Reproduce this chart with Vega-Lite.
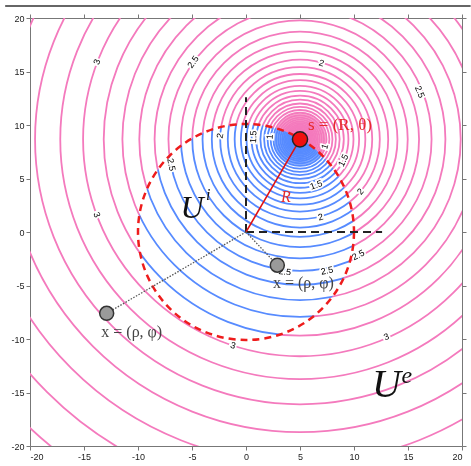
{
"$schema":"https://vega.github.io/schema/vega-lite/v6.json",
"width":432,"height":428,
"autosize":{"type":"none"},
"padding":{"left":30,"top":18,"right":9,"bottom":20},
"background":"white",
"config":{
 "view":{"stroke":null},
 "axis":{"grid":false,"title":null,"domainColor":"#777","tickColor":"#777","tickSize":4,"labelFont":"Liberation Sans","labelFontSize":9,"labelColor":"#222","labelPadding":2,"values":[-20,-15,-10,-5,0,5,10,15,20],"labelExpr":"datum.value + ''"},
 "style":{
  "halo":{"fill":"white","stroke":"white","strokeWidth":3.5},
  "clab":{"fill":"#222"}
 },
 "text":{"font":"Liberation Sans","fontSize":9,"align":"center","baseline":"middle"}
},
"datasets":{
 "circ":[
  {"x":5,"y":8.66,"r":0.607},{"x":5,"y":8.66,"r":0.670},{"x":5,"y":8.66,"r":0.741},{"x":5,"y":8.66,"r":0.819},{"x":5,"y":8.66,"r":0.905},
  {"x":5,"y":8.66,"r":1.000},{"x":5,"y":8.66,"r":1.105},{"x":5,"y":8.66,"r":1.221},{"x":5,"y":8.66,"r":1.350},{"x":5,"y":8.66,"r":1.492},
  {"x":5,"y":8.66,"r":1.649},{"x":5,"y":8.66,"r":1.822},{"x":5,"y":8.66,"r":2.014},{"x":5,"y":8.66,"r":2.226},{"x":5,"y":8.66,"r":2.460},
  {"x":5,"y":8.66,"r":2.718},{"x":5,"y":8.66,"r":3.004},{"x":5,"y":8.66,"r":3.320},{"x":5,"y":8.66,"r":3.669},{"x":5,"y":8.66,"r":4.055},
  {"x":5,"y":8.66,"r":4.482},{"x":5,"y":8.66,"r":4.953},{"x":5,"y":8.66,"r":5.474},{"x":5,"y":8.66,"r":6.050},{"x":5,"y":8.66,"r":6.686},
  {"x":5,"y":8.66,"r":7.389},{"x":5,"y":8.66,"r":8.166},{"x":5,"y":8.66,"r":9.025},{"x":5,"y":8.66,"r":9.974},{"x":5,"y":8.66,"r":11.023},
  {"x":5,"y":8.66,"r":12.182},{"x":5,"y":8.66,"r":13.464},{"x":5,"y":8.66,"r":14.880},{"x":5,"y":8.66,"r":16.445},{"x":5,"y":8.66,"r":18.174},
  {"x":5,"y":8.66,"r":20.086},{"x":5,"y":8.66,"r":22.198},{"x":5,"y":8.66,"r":24.533},{"x":5,"y":8.66,"r":27.113},{"x":5,"y":8.66,"r":29.964},
  {"x":5,"y":8.66,"r":33.115},{"x":5,"y":8.66,"r":36.598}
 ],
 "disk":[{"x":0,"y":0,"r":10}]
},
"layer":[
 {
  "encoding":{
   "x":{"field":"x","type":"quantitative","scale":{"domain":[-20,20],"nice":false,"zero":false},"axis":{"orient":"bottom"}},
   "y":{"field":"y","type":"quantitative","scale":{"domain":[-20,20],"nice":false,"zero":false},"axis":{"orient":"left"}}
  },
  "layer":[
   {"data":{"values":[{"x":5,"y":8.66,"r":2.4}]},"mark":{"type":"point","shape":"circle","filled":true,"fill":"#f9a9cd","strokeWidth":0,"opacity":1},
    "encoding":{"size":{"field":"r","type":"quantitative","scale":{"type":"pow","exponent":2,"domain":[0,40],"range":[0,746496]},"legend":null}}},
   {"data":{"name":"circ"},"mark":{"type":"point","shape":"circle","filled":false,"stroke":"#f47abd","strokeWidth":1.8,"opacity":1,"clip":true},
    "encoding":{"size":{"field":"r","type":"quantitative","scale":{"type":"pow","exponent":2,"domain":[0,40],"range":[0,746496]},"legend":null}}},
   {"data":{"name":"disk"},"mark":{"type":"point","shape":"circle","filled":true,"fill":"#2f6fff","strokeWidth":0,"opacity":1,"blend":"color"},
    "encoding":{"size":{"field":"r","type":"quantitative","scale":{"type":"pow","exponent":2,"domain":[0,40],"range":[0,746496]},"legend":null}}},
   {"data":{"name":"disk"},"mark":{"type":"point","shape":"circle","filled":true,"fill":"#bfbfbf","strokeWidth":0,"opacity":1,"blend":"color-burn"},
    "encoding":{"size":{"field":"r","type":"quantitative","scale":{"type":"pow","exponent":2,"domain":[0,40],"range":[0,746496]},"legend":null}}},

   {"data":{"values":[{"x":-13.8,"y":15.9,"t":"3"}]},"encoding":{"text":{"field":"t"}},"layer":[{"mark":{"type":"text","style":"halo","angle":-69}},{"mark":{"type":"text","style":"clab","angle":-69}}]},
   {"data":{"values":[{"x":-4.9,"y":15.9,"t":"2.5"}]},"encoding":{"text":{"field":"t"}},"layer":[{"mark":{"type":"text","style":"halo","angle":-54}},{"mark":{"type":"text","style":"clab","angle":-54}}]},
   {"data":{"values":[{"x":7.0,"y":15.8,"t":"2"}]},"encoding":{"text":{"field":"t"}},"layer":[{"mark":{"type":"text","style":"halo","angle":16}},{"mark":{"type":"text","style":"clab","angle":16}}]},
   {"data":{"values":[{"x":16.1,"y":13.1,"t":"2.5"}]},"encoding":{"text":{"field":"t"}},"layer":[{"mark":{"type":"text","style":"halo","angle":68}},{"mark":{"type":"text","style":"clab","angle":68}}]},
   {"data":{"values":[{"x":-13.8,"y":1.6,"t":"3"}]},"encoding":{"text":{"field":"t"}},"layer":[{"mark":{"type":"text","style":"halo","angle":69}},{"mark":{"type":"text","style":"clab","angle":69}}]},
   {"data":{"values":[{"x":-6.9,"y":6.3,"t":"2.5"}]},"encoding":{"text":{"field":"t"}},"layer":[{"mark":{"type":"text","style":"halo","angle":79}},{"mark":{"type":"text","style":"clab","angle":79}}]},
   {"data":{"values":[{"x":-2.4,"y":9.0,"t":"2"}]},"encoding":{"text":{"field":"t"}},"layer":[{"mark":{"type":"text","style":"halo","angle":-80}},{"mark":{"type":"text","style":"clab","angle":-80}}]},
   {"data":{"values":[{"x":0.67,"y":8.9,"t":"1.5"}]},"encoding":{"text":{"field":"t"}},"layer":[{"mark":{"type":"text","style":"halo","angle":-87}},{"mark":{"type":"text","style":"clab","angle":-87}}]},
   {"data":{"values":[{"x":2.2,"y":8.9,"t":"1"}]},"encoding":{"text":{"field":"t"}},"layer":[{"mark":{"type":"text","style":"halo","angle":-85}},{"mark":{"type":"text","style":"clab","angle":-85}}]},
   {"data":{"values":[{"x":7.3,"y":8.0,"t":"1"}]},"encoding":{"text":{"field":"t"}},"layer":[{"mark":{"type":"text","style":"halo","angle":-74}},{"mark":{"type":"text","style":"clab","angle":-74}}]},
   {"data":{"values":[{"x":9.0,"y":6.7,"t":"1.5"}]},"encoding":{"text":{"field":"t"}},"layer":[{"mark":{"type":"text","style":"halo","angle":-64}},{"mark":{"type":"text","style":"clab","angle":-64}}]},
   {"data":{"values":[{"x":10.6,"y":3.8,"t":"2"}]},"encoding":{"text":{"field":"t"}},"layer":[{"mark":{"type":"text","style":"halo","angle":-49}},{"mark":{"type":"text","style":"clab","angle":-49}}]},
   {"data":{"values":[{"x":6.5,"y":4.4,"t":"1.5"}]},"encoding":{"text":{"field":"t"}},"layer":[{"mark":{"type":"text","style":"halo","angle":-19}},{"mark":{"type":"text","style":"clab","angle":-19}}]},
   {"data":{"values":[{"x":6.9,"y":1.4,"t":"2"}]},"encoding":{"text":{"field":"t"}},"layer":[{"mark":{"type":"text","style":"halo","angle":-15}},{"mark":{"type":"text","style":"clab","angle":-15}}]},
   {"data":{"values":[{"x":7.5,"y":-3.6,"t":"2.5"}]},"encoding":{"text":{"field":"t"}},"layer":[{"mark":{"type":"text","style":"halo","angle":-11}},{"mark":{"type":"text","style":"clab","angle":-11}}]},
   {"data":{"values":[{"x":3.6,"y":-3.7,"t":"2.5"}]},"encoding":{"text":{"field":"t"}},"layer":[{"mark":{"type":"text","style":"halo","angle":6}},{"mark":{"type":"text","style":"clab","angle":6}}]},
   {"data":{"values":[{"x":10.4,"y":-2.15,"t":"2.5"}]},"encoding":{"text":{"field":"t"}},"layer":[{"mark":{"type":"text","style":"halo","angle":-27}},{"mark":{"type":"text","style":"clab","angle":-27}}]},
   {"data":{"values":[{"x":13.0,"y":-9.8,"t":"3"}]},"encoding":{"text":{"field":"t"}},"layer":[{"mark":{"type":"text","style":"halo","angle":-23}},{"mark":{"type":"text","style":"clab","angle":-23}}]},
   {"data":{"values":[{"x":-1.2,"y":-10.6,"t":"3"}]},"encoding":{"text":{"field":"t"}},"layer":[{"mark":{"type":"text","style":"halo","angle":18}},{"mark":{"type":"text","style":"clab","angle":18}}]},

   {"data":{"name":"disk"},"mark":{"type":"point","shape":"circle","filled":false,"stroke":"#ee1c1c","strokeWidth":2.5,"strokeDash":[7,5],"opacity":1},
    "encoding":{"size":{"field":"r","type":"quantitative","scale":{"type":"pow","exponent":2,"domain":[0,40],"range":[0,746496]},"legend":null}}},

   {"data":{"values":[{"x":0,"y":0,"x2":0,"y2":12.6},{"x":0,"y":0,"x2":12.6,"y2":0}]},
    "mark":{"type":"rule","color":"#222","strokeWidth":2,"strokeDash":[8,5]},
    "encoding":{"x2":{"field":"x2"},"y2":{"field":"y2"}}},
   {"data":{"values":[{"x":0,"y":0,"x2":5,"y2":8.66}]},
    "mark":{"type":"rule","color":"#e01010","strokeWidth":1.5},
    "encoding":{"x2":{"field":"x2"},"y2":{"field":"y2"}}},
   {"data":{"values":[{"x":0,"y":0,"x2":-12.9,"y2":-7.6},{"x":0,"y":0,"x2":2.9,"y2":-3.1}]},
    "mark":{"type":"rule","color":"#555","strokeWidth":1.3,"strokeDash":[1.5,1.5]},
    "encoding":{"x2":{"field":"x2"},"y2":{"field":"y2"}}},
   {"data":{"values":[{"x":-22.3,"x2":20.8,"y":21.12}]},
    "mark":{"type":"rule","color":"#333","strokeWidth":1.3},
    "encoding":{"x2":{"field":"x2"}}},

   {"data":{"values":[{"x":-12.9,"y":-7.6},{"x":2.9,"y":-3.1}]},
    "mark":{"type":"point","shape":"circle","filled":true,"fill":"#9a9a9a","stroke":"#333","strokeWidth":1.5,"size":196,"opacity":1}},
   {"data":{"values":[{"x":5,"y":8.66}]},
    "mark":{"type":"point","shape":"circle","filled":true,"fill":"#f01010","stroke":"#222","strokeWidth":1.5,"size":230,"opacity":1}},

   {"data":{"values":[{"x":5.74,"y":10.0,"t":"s = (R, θ)"}]},
    "mark":{"type":"text","font":"Liberation Serif","fontSize":17,"fill":"#e62a2a","align":"left"},
    "encoding":{"text":{"field":"t"}}},
   {"data":{"values":[{"x":3.7,"y":3.25,"t":"R"}]},
    "mark":{"type":"text","font":"Liberation Serif","fontSize":16,"fontStyle":"italic","fill":"#e62a2a"},
    "encoding":{"text":{"field":"t"}}},
   {"data":{"values":[{"x":-13.4,"y":-9.3,"t":"x = (ρ, φ)"},{"x":2.5,"y":-4.8,"t":"x = (ρ, φ)"}]},
    "mark":{"type":"text","font":"Liberation Serif","fontSize":16,"fill":"#444","align":"left"},
    "encoding":{"text":{"field":"t"}}},
   {"data":{"values":[{"x":-5.0,"y":1.3,"t":"U"}]},
    "mark":{"type":"text","font":"Liberation Serif","fontSize":32,"fontStyle":"italic","fill":"#111","baseline":"alphabetic"},
    "encoding":{"text":{"field":"t"}}},
   {"data":{"values":[{"x":-3.5,"y":3.5,"t":"i"}]},
    "mark":{"type":"text","font":"Liberation Serif","fontSize":16,"fontStyle":"italic","fill":"#111"},
    "encoding":{"text":{"field":"t"}}},
   {"data":{"values":[{"x":13.0,"y":-15.4,"t":"U"}]},
    "mark":{"type":"text","font":"Liberation Serif","fontSize":40,"fontStyle":"italic","fill":"#111","baseline":"alphabetic"},
    "encoding":{"text":{"field":"t"}}},
   {"data":{"values":[{"x":14.9,"y":-13.5,"t":"e"}]},
    "mark":{"type":"text","font":"Liberation Serif","fontSize":24,"fontStyle":"italic","fill":"#111"},
    "encoding":{"text":{"field":"t"}}}
  ]
 },
 {
  "data":{"values":[{"x":0,"y":0}]},
  "mark":{"type":"point","opacity":0},
  "encoding":{
   "x":{"field":"x","type":"quantitative","scale":{"domain":[-20,20],"nice":false,"zero":false},"axis":{"orient":"top","labels":false}},
   "y":{"field":"y","type":"quantitative","scale":{"domain":[-20,20],"nice":false,"zero":false},"axis":{"orient":"right","labels":false}}
  }
 }
],
"resolve":{"axis":{"x":"independent","y":"independent"}}
}
